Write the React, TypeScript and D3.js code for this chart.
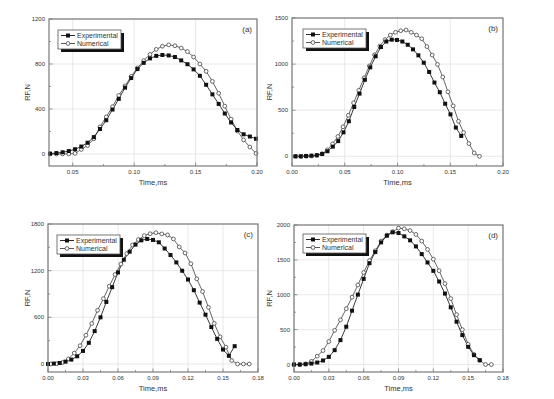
import React from 'react';
import * as d3 from 'd3';

// ---------- DATA ----------
// Panel (a)
const timeA = [0.0316, 0.0367, 0.0418, 0.0468, 0.0519, 0.0570, 0.0621, 0.0672, 0.0722, 0.0773, 0.0824, 0.0875, 0.0926, 0.0976, 0.1027, 0.1078, 0.1129, 0.1180, 0.1230, 0.1281, 0.1332, 0.1383, 0.1434, 0.1484, 0.1535, 0.1586, 0.1637, 0.1688, 0.1738, 0.1789, 0.1840, 0.1891, 0.1942, 0.1992];
const expA = [3, 8, 15, 26, 42, 66, 100, 150, 222, 300, 395, 490, 590, 675, 755, 810, 850, 872, 880, 876, 862, 832, 798, 752, 695, 615, 530, 445, 360, 280, 213, 175, 155, 135];
const numA = [0, 0, 0, 0, 5, 40, 75, 135, 240, 330, 420, 520, 605, 690, 765, 830, 885, 930, 958, 970, 962, 942, 910, 862, 800, 735, 645, 540, 425, 310, 205, 125, 62, 5];

// Panel (b)
const timeBExp = [0.0032, 0.0083, 0.0133, 0.0184, 0.0235, 0.0286, 0.0336, 0.0387, 0.0438, 0.0488, 0.0539, 0.0590, 0.0640, 0.0691, 0.0742, 0.0793, 0.0843, 0.0894, 0.0945, 0.0995, 0.1046, 0.1097, 0.1147, 0.1198, 0.1249, 0.1300, 0.1350, 0.1401, 0.1452, 0.1502, 0.1553, 0.1604];
const expB = [0, 0, 4, 7, 12, 25, 55, 105, 165, 260, 380, 535, 680, 830, 965, 1085, 1185, 1245, 1265, 1262, 1245, 1210, 1160, 1095, 1015, 915, 800, 695, 570, 455, 312, 221];
const timeBNum = [0.0037, 0.0087, 0.0136, 0.0186, 0.0236, 0.0285, 0.0335, 0.0385, 0.0435, 0.0484, 0.0534, 0.0584, 0.0633, 0.0683, 0.0733, 0.0782, 0.0832, 0.0882, 0.0932, 0.0981, 0.1031, 0.1081, 0.1130, 0.1180, 0.1230, 0.1279, 0.1329, 0.1379, 0.1429, 0.1478, 0.1528, 0.1578, 0.1627, 0.1677, 0.1727, 0.1777];
const numB = [0, 0, 0, 3, 10, 28, 70, 135, 215, 320, 445, 580, 715, 850, 980, 1100, 1195, 1265, 1315, 1345, 1362, 1370, 1345, 1315, 1275, 1190, 1098, 997, 860, 700, 547, 380, 258, 138, 36, 0];

// Panel (c)
const timeCExp = [0, 0.005, 0.01, 0.015, 0.02, 0.025, 0.03, 0.035, 0.04, 0.045, 0.05, 0.055, 0.06, 0.065, 0.07, 0.075, 0.08, 0.085, 0.09, 0.095, 0.1, 0.105, 0.11, 0.115, 0.12, 0.125, 0.13, 0.135, 0.14, 0.145, 0.15, 0.155, 0.16];
const expC = [0, 5, 13, 30, 56, 99, 168, 272, 423, 600, 798, 988, 1177, 1341, 1444, 1535, 1590, 1608, 1595, 1565, 1485, 1401, 1306, 1199, 1086, 949, 789, 634, 475, 323, 186, 105, 229];
const timeCNum = [0.0025, 0.0075, 0.0125, 0.0175, 0.0225, 0.0275, 0.0325, 0.0375, 0.0425, 0.0475, 0.0525, 0.0575, 0.0625, 0.0675, 0.0725, 0.0775, 0.0825, 0.0875, 0.0925, 0.0975, 0.1025, 0.1075, 0.1125, 0.1175, 0.1225, 0.1275, 0.1325, 0.1375, 0.1425, 0.1475, 0.1525, 0.1575, 0.1625, 0.1675, 0.1725];
const numC = [0, 3, 20, 65, 140, 235, 370, 520, 690, 840, 1000, 1150, 1285, 1420, 1530, 1600, 1650, 1675, 1688, 1672, 1660, 1608, 1505, 1427, 1289, 1095, 931, 729, 522, 349, 216, 44, 0, 0, 0];

// Panel (d)
const timeDExp = [0, 0.005, 0.01, 0.015, 0.02, 0.025, 0.03, 0.035, 0.04, 0.045, 0.05, 0.055, 0.06, 0.065, 0.07, 0.075, 0.08, 0.085, 0.09, 0.095, 0.1, 0.105, 0.11, 0.115, 0.12, 0.125, 0.13, 0.135, 0.14, 0.145, 0.15, 0.155, 0.16];
const expD = [0, 0, 5, 14, 29, 58, 110, 206, 350, 542, 772, 1002, 1228, 1453, 1612, 1751, 1847, 1895, 1885, 1837, 1780, 1693, 1583, 1463, 1343, 1190, 1017, 820, 614, 422, 254, 134, 62];
const timeDNum = [0, 0.005, 0.01, 0.015, 0.02, 0.025, 0.03, 0.035, 0.04, 0.045, 0.05, 0.055, 0.06, 0.065, 0.07, 0.075, 0.08, 0.085, 0.09, 0.095, 0.1, 0.105, 0.11, 0.115, 0.12, 0.125, 0.13, 0.135, 0.14, 0.145, 0.15, 0.155, 0.16, 0.165, 0.17];
const numD = [0, 0, 10, 45, 120, 200, 330, 490, 640, 800, 965, 1140, 1320, 1490, 1630, 1770, 1855, 1905, 1955, 1945, 1920, 1865, 1770, 1650, 1510, 1345, 1160, 945, 715, 500, 290, 145, 60, 0, 0];

// Tick values / labels
const xTicksA = [0.05, 0.10, 0.15, 0.20];
const xTicksB = [0.00, 0.05, 0.10, 0.15, 0.20];
const xTicksCD = [0.00, 0.03, 0.06, 0.09, 0.12, 0.15, 0.18];
const yTicksA = [0, 400, 800, 1200];
const yTicksB = [0, 500, 1000, 1500];
const yTicksC = [0, 600, 1200, 1800];
const yTicksD = [0, 500, 1000, 1500, 2000];

const seriesNames = ['Experimental', 'Numerical'];
const panelLabels = ['(a)', '(b)', '(c)', '(d)'];
const xTitle = 'Time,ms';
const yTitle = 'RF,N';

// ---------- LAYOUT ----------
type Panel = {
  label: string;
  left: number; right: number; top: number; bottom: number;
  xDomain: [number, number]; yDomain: [number, number];
  xTicks: number[]; xMinor: number; yTicks: number[]; yMinor: number;
  exp: [number[], number[]]; num: [number[], number[]];
  legend: [number, number];
  yTitleX: number;
};

const panels: Panel[] = [
  { label: panelLabels[0], left: 49, right: 257, top: 19, bottom: 166, xDomain: [0.0307, 0.2], yDomain: [-107, 1200],
    xTicks: xTicksA, xMinor: 0.025, yTicks: yTicksA, yMinor: 200, exp: [timeA, expA], num: [timeA, numA], legend: [58, 30], yTitleX: 30 },
  { label: panelLabels[1], left: 292, right: 503, top: 18, bottom: 166, xDomain: [0, 0.2], yDomain: [-105, 1500],
    xTicks: xTicksB, xMinor: 0.025, yTicks: yTicksB, yMinor: 250, exp: [timeBExp, expB], num: [timeBNum, numB], legend: [303, 29], yTitleX: 272 },
  { label: panelLabels[2], left: 48, right: 258, top: 224, bottom: 372, xDomain: [0, 0.18], yDomain: [-103, 1800],
    xTicks: xTicksCD, xMinor: 0.015, yTicks: yTicksC, yMinor: 300, exp: [timeCExp, expC], num: [timeCNum, numC], legend: [57, 235], yTitleX: 30 },
  { label: panelLabels[3], left: 294, right: 503, top: 225, bottom: 372, xDomain: [0, 0.18], yDomain: [-107, 2000],
    xTicks: xTicksCD, xMinor: 0.015, yTicks: yTicksD, yMinor: 250, exp: [timeDExp, expD], num: [timeDNum, numD], legend: [303, 234], yTitleX: 272 },
];

const FONT = "'Liberation Sans', Arial, sans-serif";
const FRAME = '#7a7a7a';
const GRID = '#e2e2e2';
const TEXT = '#333';

function Legend({ x0, y0 }: { x0: number; y0: number }) {
  const w = 63, h = 19;
  return (
    <g>
      <rect x={x0 + 3} y={y0 + 3} width={w} height={h} fill="#111" />
      <rect x={x0} y={y0} width={w} height={h} fill="#fff" stroke="#555" strokeWidth={0.8} />
      {seriesNames.map((name, i) => {
        const cy = y0 + 5.5 + i * 8;
        return (
          <g key={name}>
            <line x1={x0 + 3} x2={x0 + 17} y1={cy} y2={cy} stroke={i === 0 ? '#111' : '#444'} strokeWidth={0.9} />
            {i === 0 ? (
              <rect x={x0 + 10 - 2} y={cy - 2} width={4} height={4} fill="#111" />
            ) : (
              <circle cx={x0 + 10} cy={cy} r={1.9} fill="#fff" stroke="#444" strokeWidth={0.8} />
            )}
            <text x={x0 + 19} y={cy + 2.4} fontSize={7} fill={TEXT} fontFamily={FONT}>{name}</text>
          </g>
        );
      })}
    </g>
  );
}

function PanelChart({ p }: { p: Panel }) {
  const x = d3.scaleLinear().domain(p.xDomain).range([p.left, p.right]);
  const y = d3.scaleLinear().domain(p.yDomain).range([p.bottom, p.top]);
  const line = d3.line<[number, number]>().x(d => x(d[0])).y(d => y(d[1]));
  const expPts = p.exp[0].map((t, i) => [t, p.exp[1][i]] as [number, number]);
  const numPts = p.num[0].map((t, i) => [t, p.num[1][i]] as [number, number]);
  const fmt = d3.format('.2f');
  const eps = 1e-9;
  const xMinorTicks = d3.range(Math.ceil(p.xDomain[0] / p.xMinor - eps) * p.xMinor, p.xDomain[1] + eps, p.xMinor)
    .filter(v => !p.xTicks.some(t => Math.abs(t - v) < 1e-6));
  const yMinorTicks = d3.range(0, p.yDomain[1] + eps, p.yMinor)
    .filter(v => !p.yTicks.some(t => Math.abs(t - v) < 1e-6));
  const cx = (p.left + p.right) / 2;
  const cy = (p.top + p.bottom) / 2;
  return (
    <g>
      <rect x={p.left} y={p.top} width={p.right - p.left} height={p.bottom - p.top} fill="#fff" />
      {p.xTicks.map(t => (
        <line key={'gx' + t} x1={x(t)} x2={x(t)} y1={p.top} y2={p.bottom} stroke={GRID} strokeWidth={0.8} />
      ))}
      {p.yTicks.map(t => (
        <line key={'gy' + t} x1={p.left} x2={p.right} y1={y(t)} y2={y(t)} stroke={GRID} strokeWidth={0.8} />
      ))}
      {/* ticks inward */}
      {p.xTicks.map(t => (
        <line key={'tx' + t} x1={x(t)} x2={x(t)} y1={p.bottom} y2={p.bottom - 3.5} stroke={FRAME} strokeWidth={0.8} />
      ))}
      {xMinorTicks.map(t => (
        <line key={'mx' + t} x1={x(t)} x2={x(t)} y1={p.bottom} y2={p.bottom - 2} stroke={FRAME} strokeWidth={0.8} />
      ))}
      {p.yTicks.map(t => (
        <line key={'ty' + t} x1={p.left} x2={p.left + 3.5} y1={y(t)} y2={y(t)} stroke={FRAME} strokeWidth={0.8} />
      ))}
      {yMinorTicks.map(t => (
        <line key={'my' + t} x1={p.left} x2={p.left + 2} y1={y(t)} y2={y(t)} stroke={FRAME} strokeWidth={0.8} />
      ))}
      {/* series */}
      <path d={line(numPts) || ''} fill="none" stroke="#555" strokeWidth={0.9} />
      <path d={line(expPts) || ''} fill="none" stroke="#222" strokeWidth={0.9} />
      {numPts.map((d, i) => (
        <circle key={'n' + i} cx={x(d[0])} cy={y(d[1])} r={1.9} fill="#fff" stroke="#444" strokeWidth={0.8} />
      ))}
      {expPts.map((d, i) => (
        <rect key={'e' + i} x={x(d[0]) - 2} y={y(d[1]) - 2} width={4} height={4} fill="#111" />
      ))}
      <rect x={p.left} y={p.top} width={p.right - p.left} height={p.bottom - p.top} fill="none" stroke={FRAME} strokeWidth={1.2} />
      {/* tick labels */}
      {p.xTicks.map(t => (
        <text key={'lx' + t} x={x(t)} y={p.bottom + 8} fontSize={6} fill={TEXT} textAnchor="middle" fontFamily={FONT}>{fmt(t)}</text>
      ))}
      {p.yTicks.map(t => (
        <text key={'ly' + t} x={p.left - 4} y={y(t) + 2} fontSize={6} fill={TEXT} textAnchor="end" fontFamily={FONT}>{t}</text>
      ))}
      <text x={cx} y={p.bottom + 19} fontSize={7.5} fill={TEXT} textAnchor="middle" fontFamily={FONT}>{xTitle}</text>
      <text transform={`translate(${p.yTitleX},${cy}) rotate(-90)`} fontSize={7.5} fill={TEXT} textAnchor="middle" fontFamily={FONT}>{yTitle}</text>
      <text x={p.right - 5} y={p.top + 13} fontSize={8} fill={TEXT} textAnchor="end" fontFamily={FONT}>{p.label}</text>
      <Legend x0={p.legend[0]} y0={p.legend[1]} />
    </g>
  );
}

export default function App() {
  return (
    <svg width={554} height={399} style={{ position: 'absolute', left: 0, top: 0, background: '#fff' }}>
      <rect width={554} height={399} fill="#fff" />
      {panels.map(p => <PanelChart key={p.label} p={p} />)}
    </svg>
  );
}
